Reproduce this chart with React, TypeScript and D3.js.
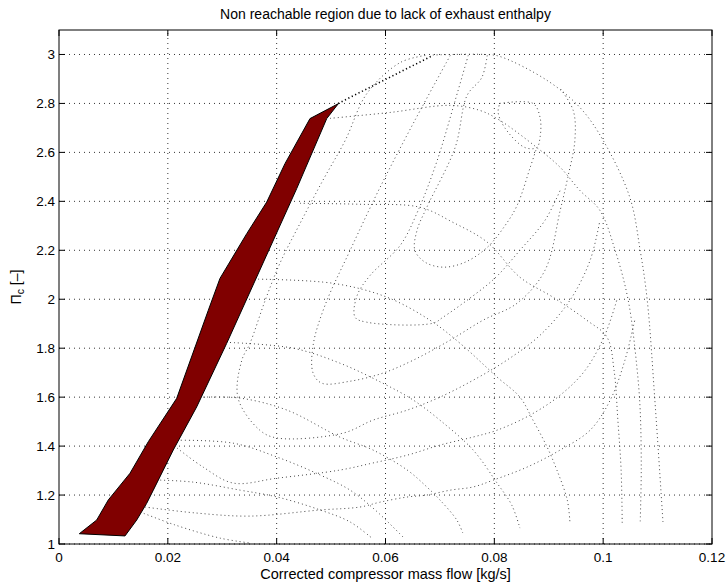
import React from 'react';
import * as d3 from 'd3';

const W = 728;
const H = 585;

const titleText = 'Non reachable region due to lack of exhaust enthalpy';
const xLabelText = 'Corrected compressor mass flow [kg/s]';

const xTicks = [0, 0.02, 0.04, 0.06, 0.08, 0.1, 0.12];
const xTickLabels = ['0', '0.02', '0.04', '0.06', '0.08', '0.1', '0.12'];
const yTicks = [1, 1.2, 1.4, 1.6, 1.8, 2, 2.2, 2.4, 2.6, 2.8, 3];
const yTickLabels = ['1', '1.2', '1.4', '1.6', '1.8', '2', '2.2', '2.4', '2.6', '2.8', '3'];

// non reachable region (mass flow, pressure ratio)
const nonReachable: [number, number][] = [
  [0.00373, 1.042], [0.00693, 1.098], [0.00906, 1.18], [0.01305, 1.289], [0.01641, 1.418],
  [0.02163, 1.595], [0.02744, 1.955], [0.02958, 2.085], [0.0345, 2.268], [0.03817, 2.397],
  [0.04153, 2.554], [0.04612, 2.738], [0.05133, 2.799], [0.0492, 2.738], [0.04368, 2.452],
  [0.0308, 1.819], [0.0253, 1.56], [0.021, 1.384], [0.01733, 1.22], [0.01611, 1.166],
  [0.01428, 1.098], [0.01213, 1.033],
];

const surgeExtension: [number, number][] = [[0.0513, 2.8], [0.0687, 2.996]];

// speed lines
const speedTop: [number, number][] = [
  [0.0687, 2.998], [0.0783, 3.0], [0.081, 2.992], [0.0897, 2.894], [0.0957, 2.784], [0.1, 2.649],
  [0.1049, 2.416], [0.1068, 2.2], [0.1081, 1.996], [0.1095, 1.588], [0.111, 1.086],
];
const speed274: [number, number][] = [
  [0.0498, 2.739], [0.0608, 2.763], [0.0719, 2.792], [0.0774, 2.771], [0.081, 2.731], [0.0878, 2.62],
  [0.0921, 2.539], [0.0957, 2.445], [0.0994, 2.363], [0.1022, 2.2], [0.1046, 1.996], [0.1062, 1.722],
  [0.1068, 1.547], [0.107, 1.302], [0.1068, 1.086],
];
const speed239: [number, number][] = [
  [0.0443, 2.392], [0.0553, 2.388], [0.0663, 2.376], [0.0724, 2.314], [0.0787, 2.233], [0.0847, 2.09],
  [0.0908, 2.008], [0.097, 1.914], [0.1007, 1.845], [0.102, 1.71], [0.1027, 1.506], [0.1033, 1.302],
  [0.1035, 1.086],
];
const speed208: [number, number][] = [
  [0.0366, 2.082], [0.0504, 2.065], [0.0603, 2.008], [0.0682, 1.914], [0.0737, 1.82], [0.0805, 1.682],
  [0.0847, 1.6], [0.0871, 1.506], [0.0897, 1.396], [0.0915, 1.302], [0.0934, 1.18], [0.0939, 1.086],
];
const speed181: [number, number][] = [
  [0.0307, 1.824], [0.043, 1.8], [0.0516, 1.739], [0.0595, 1.657], [0.0651, 1.588], [0.07, 1.506],
  [0.0761, 1.384], [0.0805, 1.249], [0.0832, 1.159], [0.0847, 1.065],
];
const speed160: [number, number][] = [
  [0.0265, 1.6], [0.0333, 1.596], [0.0419, 1.547], [0.0516, 1.437], [0.0577, 1.384], [0.064, 1.302],
  [0.0676, 1.233], [0.07, 1.18], [0.0731, 1.098], [0.0742, 1.045],
];
const speed142: [number, number][] = [
  [0.0217, 1.424], [0.032, 1.412], [0.0401, 1.355], [0.048, 1.282], [0.0535, 1.22], [0.0581, 1.139],
  [0.0632, 1.029],
];
const speed120: [number, number][] = [
  [0.0186, 1.261], [0.0246, 1.253], [0.0333, 1.22], [0.0401, 1.192], [0.048, 1.139], [0.0535, 1.09],
  [0.0575, 1.024],
];
const speed110: [number, number][] = [
  [0.0149, 1.131], [0.0213, 1.078], [0.0296, 1.024], [0.0351, 1.004],
];

// efficiency contours
const effD: [number, number][] = [
  [0.0158, 1.151], [0.025, 1.127], [0.0351, 1.114], [0.048, 1.139], [0.0553, 1.151], [0.059, 1.171],
  [0.064, 1.192], [0.0676, 1.2], [0.0719, 1.22], [0.0761, 1.233], [0.0798, 1.261], [0.086, 1.314],
  [0.0921, 1.384], [0.0976, 1.465], [0.1013, 1.588], [0.104, 1.751], [0.1058, 1.914],
];
const effC: [number, number][] = [
  [0.0217, 1.392], [0.0265, 1.314], [0.032, 1.249], [0.0401, 1.269], [0.0516, 1.302], [0.0577, 1.331],
  [0.064, 1.363], [0.07, 1.404], [0.0761, 1.437], [0.0805, 1.465], [0.0866, 1.527], [0.0921, 1.608],
  [0.0967, 1.71], [0.1003, 1.853], [0.1025, 1.996],
];
const effB: [number, number][] = [
  [0.0673, 2.996], [0.0627, 2.967], [0.0566, 2.841], [0.0526, 2.649], [0.0485, 2.486], [0.0443, 2.31],
  [0.0406, 2.147], [0.0379, 1.996], [0.0351, 1.82], [0.0336, 1.751], [0.0329, 1.596], [0.0369, 1.465],
  [0.0401, 1.433], [0.0522, 1.453], [0.0577, 1.506], [0.064, 1.547], [0.07, 1.6], [0.0761, 1.669],
  [0.0823, 1.751], [0.0884, 1.853], [0.0939, 1.996], [0.0976, 2.159], [0.0994, 2.322],
];
const effA: [number, number][] = [
  [0.0719, 2.996], [0.0654, 2.731], [0.059, 2.457], [0.0535, 2.2], [0.0489, 1.976], [0.0467, 1.812],
  [0.0467, 1.698], [0.0483, 1.657], [0.0535, 1.665], [0.0595, 1.698], [0.0651, 1.751], [0.0719, 1.833],
  [0.0779, 1.914], [0.0842, 1.984], [0.0893, 2.118], [0.0921, 2.363], [0.0935, 2.498], [0.0948, 2.649],
  [0.0945, 2.771], [0.0921, 2.861],
];
const effH: [number, number][] = [
  [0.0752, 2.996], [0.0728, 2.812], [0.0695, 2.567], [0.066, 2.363], [0.0627, 2.22], [0.0572, 2.098],
  [0.0548, 2.016], [0.0544, 1.927], [0.0566, 1.906], [0.0687, 1.902], [0.0706, 1.927], [0.075, 1.996],
  [0.0801, 2.086], [0.0847, 2.2], [0.0893, 2.322], [0.0921, 2.445],
];
const effI: [number, number][] = [
  [0.0787, 2.996], [0.0777, 2.906], [0.075, 2.833], [0.0728, 2.62], [0.0676, 2.376], [0.0658, 2.282],
  [0.0654, 2.2], [0.0673, 2.151], [0.0706, 2.131], [0.0746, 2.151], [0.0787, 2.212], [0.082, 2.302],
  [0.0842, 2.384], [0.0866, 2.539], [0.0878, 2.62],
];
const effIsland: [number, number][] = [
  [0.081, 2.8], [0.0871, 2.8], [0.0884, 2.743], [0.0884, 2.661], [0.0878, 2.62], [0.0856, 2.62],
  [0.082, 2.698], [0.0807, 2.763], [0.081, 2.8],
];

const speedLines = [speedTop, speed274, speed239, speed208, speed181, speed160, speed142, speed120, speed110];
const effLines = [effD, effC, effB, effA, effH, effI, effIsland];

const L = 59, R = 712, T = 30, B = 544;
const FONT = '"Liberation Sans", Arial, Helvetica, sans-serif';

export default function App() {
  const x = d3.scaleLinear().domain([0, 0.12]).range([L, R]);
  const y = d3.scaleLinear().domain([1, 3.1]).range([B, T]);
  const smooth = d3.line<[number, number]>().x(d => x(d[0])).y(d => y(d[1])).curve(d3.curveCatmullRom.alpha(0.5));
  const straight = d3.line<[number, number]>().x(d => x(d[0])).y(d => y(d[1]));
  const tick = 6;

  return (
    <svg width={W} height={H} style={{ position: 'absolute', left: 0, top: 0, background: '#fff' }}>
      <rect x={0} y={0} width={W} height={H} fill="#fff" />
      {/* grid */}
      <g stroke="#000" strokeWidth={0.8} strokeDasharray="1,4">
        {xTicks.slice(1, -1).map((t, i) => (
          <line key={'gx' + i} x1={x(t)} x2={x(t)} y1={B} y2={T} />
        ))}
        {yTicks.map((t, i) => (
          <line key={'gy' + i} x1={L} x2={R} y1={y(t)} y2={y(t)} />
        ))}
      </g>
      {/* map lines */}
      <g fill="none" stroke="#333" strokeWidth={0.9} strokeDasharray="1,3">
        {speedLines.map((s, i) => (
          <path key={'s' + i} d={smooth(s) || ''} />
        ))}
        {effLines.map((s, i) => (
          <path key={'e' + i} d={smooth(s) || ''} />
        ))}
      </g>
      <path d={straight(surgeExtension) || ''} fill="none" stroke="#000" strokeWidth={1.6} strokeDasharray="1.2,2.6" />
      <path d={(straight(nonReachable) || '') + 'Z'} fill="#800000" stroke="#000" strokeWidth={1} strokeLinejoin="round" />
      {/* axes box */}
      <rect x={L} y={T} width={R - L} height={B - T} fill="none" stroke="#000" strokeWidth={1} />
      <g stroke="#000" strokeWidth={1}>
        {xTicks.map((t, i) => (
          <g key={'tx' + i}>
            <line x1={x(t)} x2={x(t)} y1={B} y2={B - tick} />
            <line x1={x(t)} x2={x(t)} y1={T} y2={T + tick} />
          </g>
        ))}
        {yTicks.map((t, i) => (
          <g key={'ty' + i}>
            <line x1={L} x2={L + tick} y1={y(t)} y2={y(t)} />
            <line x1={R} x2={R - tick} y1={y(t)} y2={y(t)} />
          </g>
        ))}
      </g>
      <g fontFamily={FONT} fontSize={13.5} fill="#000">
        {xTicks.map((t, i) => (
          <text key={'lx' + i} x={x(t)} y={562} textAnchor="middle">{xTickLabels[i]}</text>
        ))}
        {yTicks.map((t, i) => (
          <text key={'ly' + i} x={55} y={y(t) + 4.8} textAnchor="end">{yTickLabels[i]}</text>
        ))}
      </g>
      <text x={(L + R) / 2} y={579} textAnchor="middle" fontFamily={FONT} fontSize={14.5} fill="#000">{xLabelText}</text>
      <text transform={`translate(21,${(T + B) / 2}) rotate(-90)`} textAnchor="middle" fontFamily={FONT} fontSize={14} fill="#000">
        Π<tspan fontSize={10.5} dy={3}>c</tspan><tspan dy={-3}> [–]</tspan>
      </text>
      <text x={(L + R) / 2} y={19} textAnchor="middle" fontFamily={FONT} fontSize={14} fill="#000">{titleText}</text>
    </svg>
  );
}
